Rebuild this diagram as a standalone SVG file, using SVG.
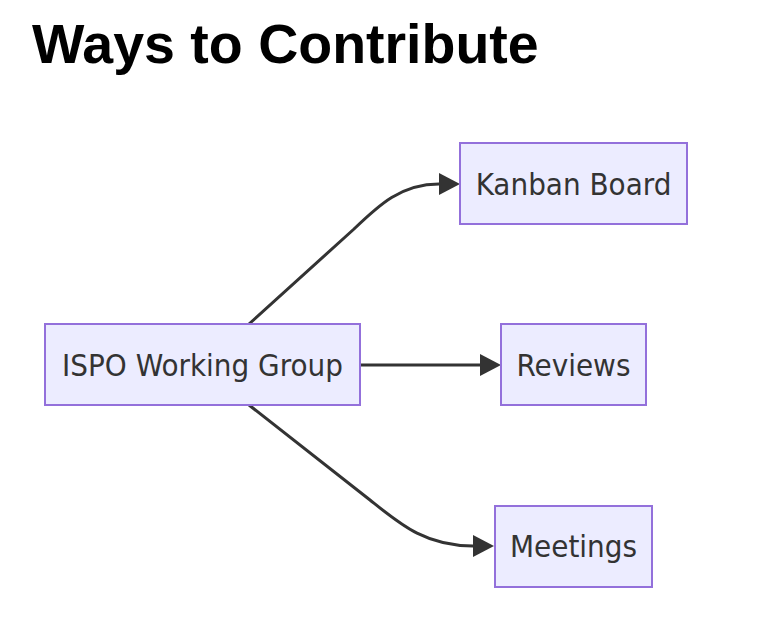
<svg xmlns="http://www.w3.org/2000/svg" width="778" height="618" viewBox="0 0 778 618">
<style>
.title{font-family:"Liberation Sans",Arial,sans-serif;font-weight:bold;font-size:55.5px;fill:#000}
.node rect{fill:#ECECFF;stroke:#9370DB;stroke-width:2}
.node text{font-family:"DejaVu Sans Condensed","DejaVu Sans",sans-serif;font-stretch:condensed;font-size:31px;fill:#333;text-anchor:middle}
.edge{fill:none;stroke:#333;stroke-width:3}
</style>
<defs>
<marker id="arrow" markerUnits="userSpaceOnUse" markerWidth="21" markerHeight="22" refX="0" refY="11" orient="auto" viewBox="0 0 21 22">
<path d="M0,0 L21,11 L0,22 z" fill="#333"/>
</marker>
</defs>
<rect width="778" height="618" fill="#fff"/>
<text class="title" x="32" y="63">Ways to Contribute</text>
<g id="connectors">
<path class="edge" d="M249,324 L354,229 C379,205 401,184 439,184" marker-end="url(#arrow)"/>
<path class="edge" d="M360,365 L480,365" marker-end="url(#arrow)"/>
<path class="edge" d="M249,405 L370,500 C400,524 425,546 473,546" marker-end="url(#arrow)"/>
</g>
<g id="ispo" class="node">
<rect x="45" y="324" width="315" height="81"/>
<text x="202.5" y="376">ISPO Working Group</text>
</g>
<g id="kanban" class="node">
<rect x="460" y="143" width="227" height="81"/>
<text x="573.5" y="195">Kanban Board</text>
</g>
<g id="reviews" class="node">
<rect x="501" y="324" width="145" height="81"/>
<text x="573.5" y="376">Reviews</text>
</g>
<g id="meetings" class="node">
<rect x="495" y="506" width="157" height="81"/>
<text x="573.5" y="557">Meetings</text>
</g>
</svg>
